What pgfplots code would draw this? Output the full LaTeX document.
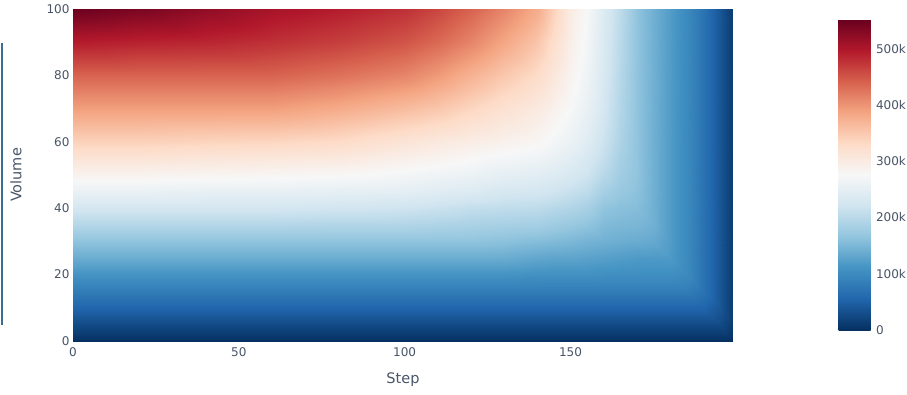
\documentclass[border=0pt]{standalone}
\usepackage{fontspec}
\setmainfont{DejaVu Sans}
\usepackage{pgfplots}
\pgfplotsset{compat=1.18}
\definecolor{txt}{RGB}{72,84,104}
\definecolor{edgeblue}{RGB}{60,110,145}
\begin{document}
\begin{tikzpicture}
\useasboundingbox (0,0) rectangle (907pt,394pt);
\begin{axis}[
  at={(73pt,53pt)}, anchor=south west,
  width=660pt, height=332pt, scale only axis,
  xmin=0, xmax=199, ymin=0, ymax=100,
  xtick={0,50,100,150}, ytick={0,20,40,60,80,100},
  axis line style={draw=none}, major tick length=0pt,
  tick label style={font=\fontsize{12}{14}\selectfont, text=txt},
  xticklabel style={yshift=-3pt},
  /pgf/number format/assume math mode=true,
  xlabel={Step}, ylabel={Volume},
  label style={font=\fontsize{14.5}{17}\selectfont, text=txt},
  xlabel style={at={(axis description cs:0.5,-0.1175)}, anchor=center},
  ylabel style={at={(axis description cs:-0.0864,0.5)}, anchor=center},
  colormap={rdbur}{rgb255=(5,48,97) rgb255=(33,102,172) rgb255=(67,147,195) rgb255=(146,197,222) rgb255=(209,229,240) rgb255=(247,247,247) rgb255=(253,219,199) rgb255=(244,165,130) rgb255=(214,96,77) rgb255=(178,24,43) rgb255=(103,0,31)},
  point meta min=0, point meta max=553,
  colorbar,
  /pgfplots/colorbar/width=32pt,
  colorbar style={
    at={(parent axis.south east)}, anchor=south west, xshift=97pt, yshift=11pt,
    width=32pt, height=311pt, scale only axis,
    ytick={0,100,200,300,400,500}, yticklabels={0,100k,200k,300k,400k,500k},
    axis line style={draw=none}, major tick length=0pt,
    yticklabel style={font=\fontsize{12}{14}\selectfont, text=txt, xshift=2pt},
    /pgf/number format/assume math mode=true,
  },
]
\addplot[surf, shader=interp, mesh/cols=22, point meta=explicit] coordinates {
(0,0)[0] (20,0)[0] (40,0)[0] (60,0)[0] (80,0)[0] (100,0)[0] (110,0)[0] (120,0)[0] (130,0)[0] (140,0)[0] (145,0)[0] (150,0)[0] (155,0)[0] (160,0)[0] (165,0)[0] (170,0)[0] (175,0)[0] (180,0)[0] (185,0)[0] (190,0)[0] (195,0)[0] (199,0)[0]
(0,5)[28] (20,5)[28] (40,5)[28] (60,5)[28] (80,5)[28] (100,5)[28] (110,5)[28] (120,5)[28] (130,5)[28] (140,5)[28] (145,5)[28] (150,5)[28] (155,5)[28] (160,5)[28] (165,5)[28] (170,5)[28] (175,5)[28] (180,5)[28] (185,5)[28] (190,5)[28] (195,5)[28] (199,5)[11]
(0,10)[55] (20,10)[55] (40,10)[55] (60,10)[55] (80,10)[55] (100,10)[55] (110,10)[55] (120,10)[55] (130,10)[55] (140,10)[55] (145,10)[55] (150,10)[55] (155,10)[55] (160,10)[55] (165,10)[55] (170,10)[55] (175,10)[55] (180,10)[55] (185,10)[55] (190,10)[55] (195,10)[39] (199,10)[11]
(0,15)[83] (20,15)[83] (40,15)[83] (60,15)[83] (80,15)[83] (100,15)[83] (110,15)[83] (120,15)[83] (130,15)[83] (140,15)[83] (145,15)[83] (150,15)[83] (155,15)[83] (160,15)[83] (165,15)[83] (170,15)[83] (175,15)[83] (180,15)[83] (185,15)[83] (190,15)[72] (195,15)[39] (199,15)[11]
(0,20)[110] (20,20)[110] (40,20)[110] (60,20)[110] (80,20)[110] (100,20)[110] (110,20)[110] (120,20)[110] (130,20)[110] (140,20)[107] (145,20)[107] (150,20)[107] (155,20)[107] (160,20)[105] (165,20)[105] (170,20)[105] (175,20)[105] (180,20)[105] (185,20)[99] (190,20)[72] (195,20)[39] (199,20)[11]
(0,25)[138] (20,25)[138] (40,25)[138] (60,25)[138] (80,25)[138] (100,25)[138] (110,25)[138] (120,25)[138] (130,25)[138] (140,25)[132] (145,25)[129] (150,25)[129] (155,25)[127] (160,25)[124] (165,25)[121] (170,25)[118] (175,25)[118] (180,25)[118] (185,25)[99] (190,25)[72] (195,25)[39] (199,25)[11]
(0,30)[165] (20,30)[165] (40,30)[165] (60,30)[165] (80,30)[165] (100,30)[165] (110,30)[165] (120,30)[165] (130,30)[162] (140,30)[157] (145,30)[154] (150,30)[151] (155,30)[146] (160,30)[143] (165,30)[140] (170,30)[138] (175,30)[135] (180,30)[121] (185,30)[99] (190,30)[72] (195,30)[39] (199,30)[11]
(0,35)[195] (20,35)[195] (40,35)[195] (60,35)[195] (80,35)[193] (100,35)[193] (110,35)[190] (120,35)[187] (130,35)[184] (140,35)[182] (145,35)[176] (150,35)[171] (155,35)[165] (160,35)[154] (165,35)[151] (170,35)[149] (175,35)[143] (180,35)[121] (185,35)[99] (190,35)[72] (195,35)[39] (199,35)[11]
(0,40)[226] (20,40)[226] (40,40)[226] (60,40)[226] (80,40)[223] (100,40)[220] (110,40)[215] (120,40)[209] (130,40)[206] (140,40)[204] (145,40)[198] (150,40)[193] (155,40)[184] (160,40)[165] (165,40)[160] (170,40)[157] (175,40)[143] (180,40)[121] (185,40)[99] (190,40)[72] (195,40)[39] (199,40)[11]
(0,45)[256] (20,45)[256] (40,45)[253] (60,45)[253] (80,45)[250] (100,45)[248] (110,45)[242] (120,45)[237] (130,45)[228] (140,45)[226] (145,45)[220] (150,45)[212] (155,45)[204] (160,45)[182] (165,45)[171] (170,45)[162] (175,45)[143] (180,45)[121] (185,45)[99] (190,45)[72] (195,45)[39] (199,45)[11]
(0,50)[286] (20,50)[286] (40,50)[283] (60,50)[281] (80,50)[278] (100,50)[270] (110,50)[264] (120,50)[259] (130,50)[250] (140,50)[245] (145,50)[239] (150,50)[231] (155,50)[220] (160,50)[198] (165,50)[179] (170,50)[165] (175,50)[143] (180,50)[121] (185,50)[99] (190,50)[72] (195,50)[39] (199,50)[11]
(0,55)[314] (20,55)[314] (40,55)[311] (60,55)[308] (80,55)[305] (100,55)[292] (110,55)[286] (120,55)[278] (130,55)[270] (140,55)[264] (145,55)[256] (150,55)[245] (155,55)[231] (160,55)[209] (165,55)[184] (170,55)[165] (175,55)[143] (180,55)[121] (185,55)[99] (190,55)[72] (195,55)[39] (199,55)[11]
(0,60)[341] (20,60)[341] (40,60)[338] (60,60)[336] (80,60)[330] (100,60)[314] (110,60)[305] (120,60)[297] (130,60)[289] (140,60)[281] (145,60)[270] (150,60)[259] (155,60)[242] (160,60)[217] (165,60)[190] (170,60)[165] (175,60)[143] (180,60)[121] (185,60)[99] (190,60)[72] (195,60)[39] (199,60)[11]
(0,70)[391] (20,70)[391] (40,70)[391] (60,70)[391] (80,70)[380] (100,70)[363] (110,70)[352] (120,70)[336] (130,70)[319] (140,70)[303] (145,70)[289] (150,70)[275] (155,70)[256] (160,70)[226] (165,70)[195] (170,70)[165] (175,70)[143] (180,70)[121] (185,70)[99] (190,70)[72] (195,70)[39] (199,70)[11]
(0,80)[440] (20,80)[440] (40,80)[440] (60,80)[440] (80,80)[429] (100,80)[413] (110,80)[396] (120,80)[374] (130,80)[352] (140,80)[330] (145,80)[308] (150,80)[286] (155,80)[264] (160,80)[231] (165,80)[198] (170,80)[165] (175,80)[143] (180,80)[121] (185,80)[99] (190,80)[72] (195,80)[39] (199,80)[11]
(0,90)[495] (20,90)[490] (40,90)[487] (60,90)[479] (80,90)[468] (100,90)[451] (110,90)[435] (120,90)[413] (130,90)[385] (140,90)[355] (145,90)[325] (150,90)[294] (155,90)[270] (160,90)[234] (165,90)[201] (170,90)[165] (175,90)[143] (180,90)[121] (185,90)[99] (190,90)[72] (195,90)[39] (199,90)[11]
(0,100)[550] (20,100)[539] (40,100)[523] (60,100)[506] (80,100)[495] (100,100)[479] (110,100)[462] (120,100)[440] (130,100)[413] (140,100)[380] (145,100)[341] (150,100)[300] (155,100)[275] (160,100)[237] (165,100)[204] (170,100)[165] (175,100)[143] (180,100)[121] (185,100)[99] (190,100)[72] (195,100)[39] (199,100)[11]
};
\end{axis}
\draw[edgeblue, line width=2pt] (1.5pt,351pt) -- (1.5pt,69pt);
\end{tikzpicture}
\end{document}
